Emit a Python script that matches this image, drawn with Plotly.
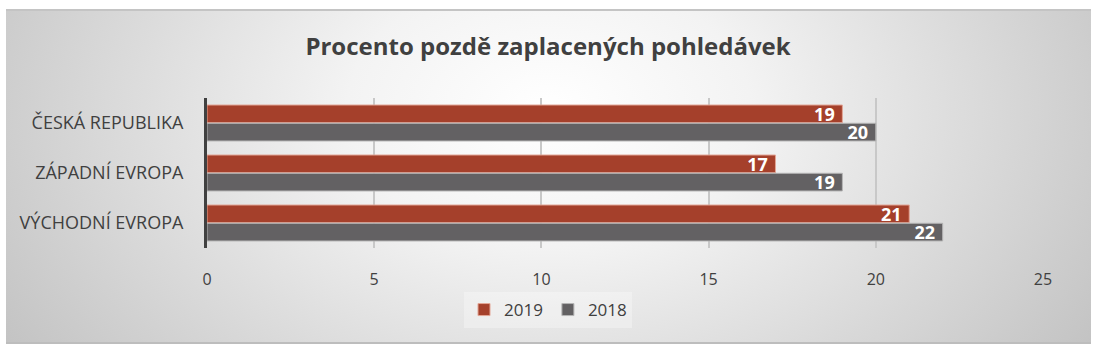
import base64
import plotly.graph_objects as go

categories = ["ČESKÁ REPUBLIKA", "ZÁPADNÍ EVROPA", "VÝCHODNÍ EVROPA"]
values_2019 = [19, 17, 21]
values_2018 = [20, 19, 22]
series_names = ["2019", "2018"]
x_ticks = [0, 5, 10, 15, 20, 25]

W, H = 1099, 351
L, R, T, B = 207, 56, 98, 103
pw, ph = W - L - R, H - T - B

def px_to_paper_x(px):
    return (px - L) / pw

def px_to_paper_y(py):
    return (H - B - py) / ph

svg = """<svg xmlns='http://www.w3.org/2000/svg' width='1084' height='333' viewBox='0 0 1084 333' preserveAspectRatio='none'>
<defs><radialGradient id='g' cx='0.5' cy='0.3' r='0.62' gradientTransform='translate(0.5 0.3) scale(1 2.2) translate(-0.5 -0.3)'>
<stop offset='0' stop-color='#ffffff'/><stop offset='0.3' stop-color='#f3f3f3'/><stop offset='1' stop-color='#c0c0c0'/></radialGradient></defs>
<rect x='0' y='0' width='1084' height='333' fill='url(#g)'/></svg>"""
src = "data:image/svg+xml;base64," + base64.b64encode(svg.encode()).decode()

label_font = dict(color="white", size=18, family="Open Sans", weight="bold")

fig = go.Figure()
fig.add_trace(go.Bar(
    y=categories, x=values_2019, name=series_names[0], orientation="h",
    marker=dict(color="#a5402b", line=dict(color="#e3a595", width=1)),
    texttemplate="%{x}\u00a0", textposition="inside", insidetextanchor="end",
    constraintext="none", textangle=0, textfont=label_font,
))
fig.add_trace(go.Bar(
    y=categories, x=values_2018, name=series_names[1], orientation="h",
    marker=dict(color="#636163", line=dict(color="#b5b5b5", width=1)),
    texttemplate="%{x}\u00a0", textposition="inside", insidetextanchor="end",
    constraintext="none", textangle=0, textfont=label_font,
))

x0, x1 = px_to_paper_x(6), px_to_paper_x(1091)
y0, y1 = px_to_paper_y(343), px_to_paper_y(10)
fig.add_layout_image(dict(
    source=src, xref="paper", yref="paper", x=x0, y=y1,
    sizex=x1 - x0, sizey=y1 - y0, sizing="stretch", layer="below",
    xanchor="left", yanchor="top",
))
fig.add_shape(type="line", xref="paper", yref="paper", x0=x0, x1=x1, y0=y1, y1=y1,
              line=dict(color="#c4c4c4", width=2))
fig.add_shape(type="line", xref="paper", yref="paper", x0=x0, x1=x1, y0=y0, y1=y0,
              line=dict(color="#bdbdbd", width=2))

fig.update_layout(
    width=W, height=H,
    margin=dict(l=L, r=R, t=T, b=B),
    paper_bgcolor="white", plot_bgcolor="rgba(0,0,0,0)",
    barmode="group", bargap=0.27, bargroupgap=0.03,
    font=dict(family="Open Sans", color="#404040"),
    title=dict(text="<b>Procento pozdě zaplacených pohledávek</b>",
               font=dict(size=24, color="#404040", family="Open Sans"),
               x=548 / W, xref="container", xanchor="center",
               y=1 - 47 / H, yref="container", yanchor="middle"),
    xaxis=dict(range=[0, 25], tickvals=x_ticks, showgrid=True,
               gridcolor="#c8c8c8", gridwidth=1.5, zeroline=False,
               tickfont=dict(size=16, color="#404040"), ticklabelstandoff=20,
               showline=False),
    yaxis=dict(autorange="reversed", showline=True, linecolor="#404040",
               linewidth=3, showgrid=False, ticks="",
               tickfont=dict(size=18, color="#404040"), ticklabelstandoff=17),
    legend=dict(orientation="h", x=px_to_paper_x(548), xanchor="center",
                y=px_to_paper_y(310), yanchor="middle",
                bgcolor="rgba(255,255,255,0.3)",
                font=dict(size=17, color="#404040"), traceorder="normal"),
    showlegend=True,
)

fig.write_html("out.html")
